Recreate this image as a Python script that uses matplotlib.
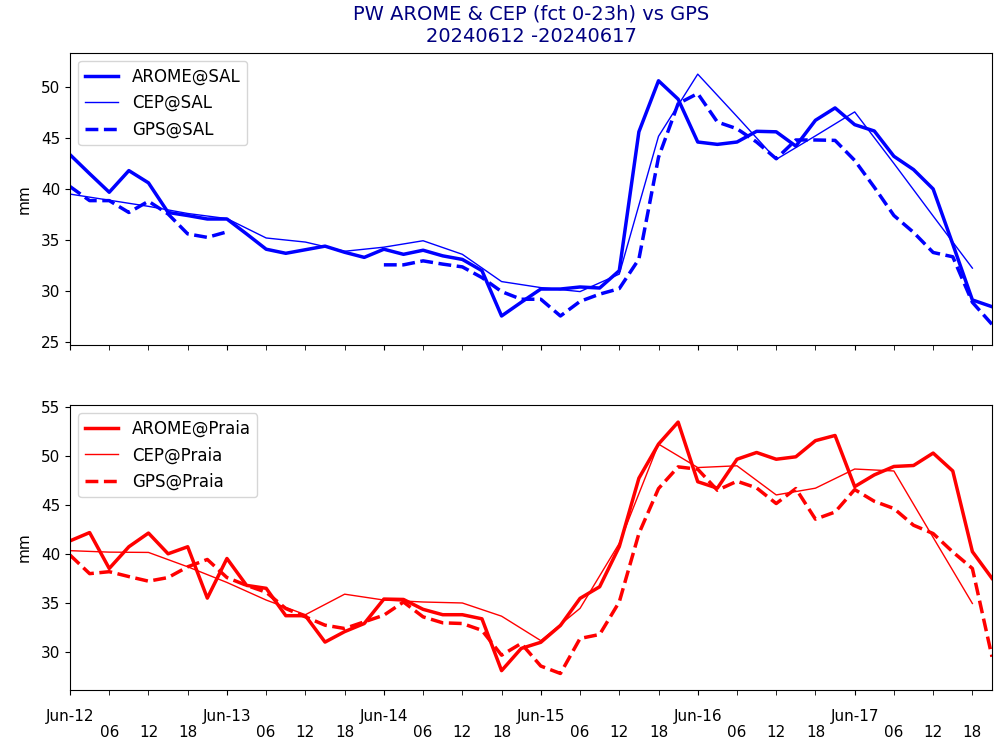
import matplotlib
matplotlib.use("Agg")
import matplotlib.pyplot as plt
import matplotlib.dates as mdates
from matplotlib.ticker import MultipleLocator
import numpy as np
import pandas as pd

nan = np.nan
t3 = pd.date_range("2024-06-12 00:00", periods=48, freq="3h")
t6 = pd.date_range("2024-06-12 00:00", periods=24, freq="6h")

arome_sal = [43.36, 41.5, 39.68, 41.8, 40.6, 37.7, 37.4, 37.06, 37.06, 35.6, 34.1, 33.7,
             34.05, 34.4, 33.8, 33.3, 34.1, 33.6, 34.0, 33.45, 33.1, 32.0, 27.56, 28.9,
             30.2, 30.2, 30.4, 30.3, 32.0, 45.6, 50.6, 48.8, 44.6, 44.37, 44.6, 45.65,
             45.6, 44.2, 46.73, 47.94, 46.3, 45.68, 43.2, 41.9, 40.0, 34.6, 29.13, 28.47]
cep_sal = [39.5, 38.9, 38.3, 37.6, 37.1, 35.2, 34.8, 33.9, 34.3, 34.93, 33.6, 30.93,
           30.34, 29.95, 31.66, 45.16, 51.25, 47.1, 42.9, 45.2, 47.55, 42.5, 37.35, 32.25]
gps_sal = [40.24, 38.86, 38.86, 37.7, 38.8, 37.55, 35.6, 35.26, 35.8, nan, nan, nan,
           nan, nan, nan, nan, 32.57, 32.57, 32.96, 32.64, 32.37, 31.32, 29.95, 29.2,
           29.2, 27.56, 28.99, 29.7, 30.24, 33.13, 43.1, 48.36, 49.35, 46.56, 45.9, 44.6,
           42.96, 44.8, 44.8, 44.76, 42.8, 40.17, 37.4, 35.75, 33.78, 33.36, 28.9, 26.74]

arome_praia = [41.35, 42.2, 38.53, 40.75, 42.15, 40.03, 40.75, 35.5, 39.55, 36.8, 36.5, 33.7,
               33.7, 31.0, 32.07, 32.9, 35.4, 35.36, 34.35, 33.8, 33.8, 33.38, 28.08, 30.35,
               30.98, 32.7, 35.47, 36.66, 40.76, 47.76, 51.25, 53.5, 47.4, 46.74, 49.7, 50.39,
               49.7, 49.95, 51.6, 52.13, 46.9, 48.1, 48.96, 49.06, 50.33, 48.5, 40.25, 37.52]
cep_praia = [40.35, 40.2, 40.17, 38.7, 37.1, 35.3, 33.8, 35.9, 35.3, 35.1, 35.0, 33.65,
             31.15, 34.45, 41.1, 51.25, 48.85, 49.03, 46.05, 46.74, 48.7, 48.5, 41.7, 34.95]
gps_praia = [39.9, 38.0, 38.2, 37.7, 37.23, 37.6, 38.7, 39.45, 37.6, 36.8, 36.1, 34.43,
             33.58, 32.73, 32.39, 33.07, 33.75, 35.1, 33.58, 32.97, 32.9, 32.2, 29.66, 30.86,
             28.55, 27.79, 31.37, 31.78, 35.11, 42.1, 46.7, 48.92, 48.68, 46.53, 47.45, 46.77,
             45.17, 46.7, 43.57, 44.3, 46.6, 45.4, 44.66, 42.95, 42.1, 40.22, 38.53, 29.5]

title = "PW AROME & CEP (fct 0-23h) vs GPS\n20240612 -20240617"

fig = plt.figure(figsize=(10, 7.39), dpi=100)
ax1 = fig.add_axes([0.07, 0.5336, 0.922, 0.3951])
ax2 = fig.add_axes([0.07, 0.0663, 0.922, 0.3857], sharex=ax1)

def draw(ax, a, c, g, color, site):
    ax.plot(t3, a, color=color, lw=2.5, label=f"AROME@{site}")
    ax.plot(t6, c, color=color, lw=1.0, label=f"CEP@{site}")
    ax.plot(t3, g, color=color, lw=2.5, ls="--", label=f"GPS@{site}")
    ax.set_ylabel("mm", fontsize=11, labelpad=7)
    ax.yaxis.set_major_locator(MultipleLocator(5))
    ax.legend(loc="upper left", fontsize=12)

draw(ax1, arome_sal, cep_sal, gps_sal, "blue", "SAL")
draw(ax2, arome_praia, cep_praia, gps_praia, "red", "Praia")
ax1.set_ylim(24.75, 53.35)
ax2.set_ylim(26.1, 55.25)
ax2.set_xlim(t3[0], t3[-1])

for ax in (ax1, ax2):
    ax.xaxis.set_major_locator(mdates.DayLocator())
    ax.xaxis.set_major_formatter(mdates.DateFormatter("%b-%d"))
    ax.xaxis.set_minor_locator(mdates.HourLocator(byhour=[6, 12, 18]))
    ax.xaxis.set_minor_formatter(mdates.DateFormatter("%H"))
    ax.tick_params(axis="x", which="major", labelsize=11, pad=10)
    ax.tick_params(axis="x", which="minor", labelsize=11, pad=21.5, length=3.5)
    ax.tick_params(axis="y", labelsize=11)
plt.setp(ax1.get_xticklabels(which="both"), visible=False)

ax1.set_title(title, color="navy", fontsize=14, pad=8)

fig.savefig("out.png", dpi=100)
